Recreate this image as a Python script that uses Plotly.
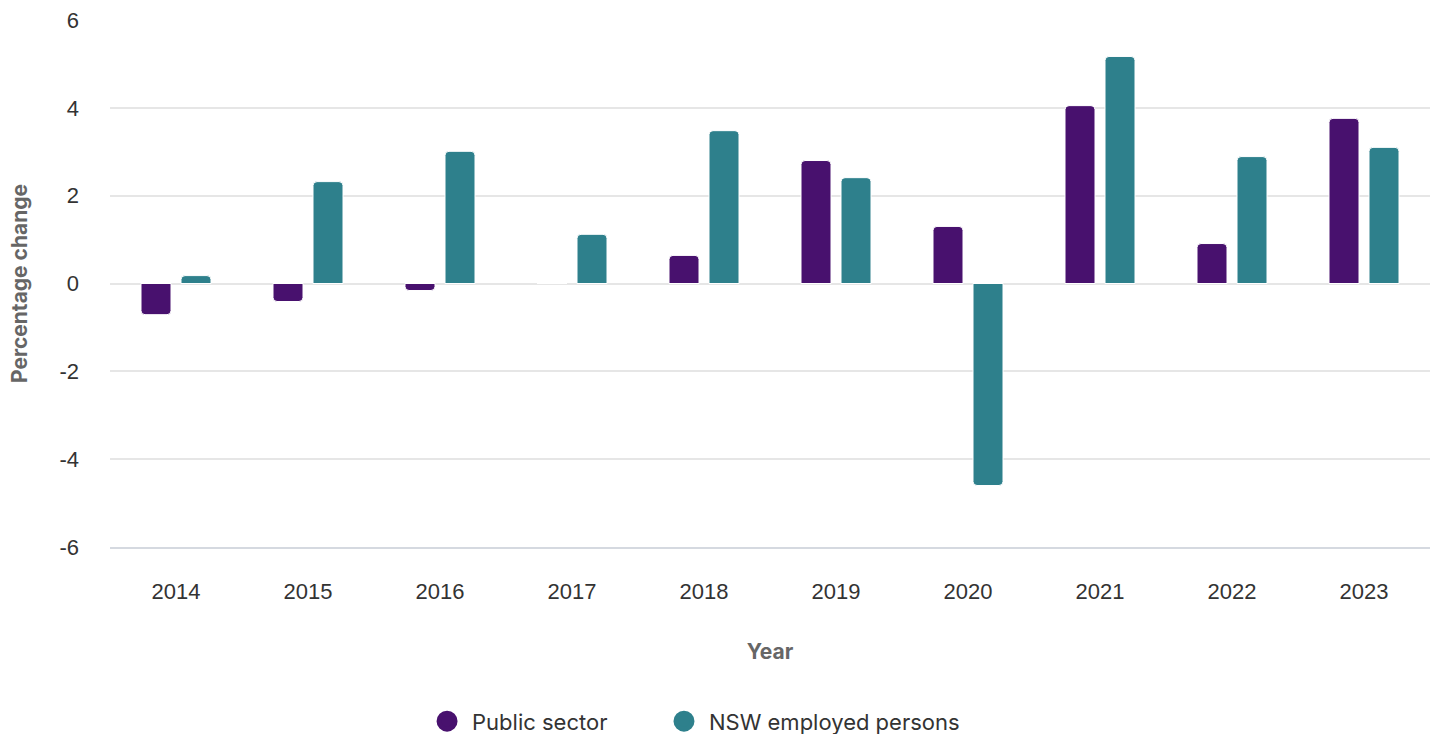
import plotly.graph_objects as go

years = ["2014", "2015", "2016", "2017", "2018", "2019", "2020", "2021", "2022", "2023"]
public_sector = [-0.71, -0.41, -0.16, 0.0, 0.64, 2.80, 1.30, 4.05, 0.91, 3.76]
nsw_employed = [0.18, 2.32, 3.01, 1.12, 3.48, 2.41, -4.60, 5.17, 2.89, 3.10]
y_ticks = [-6, -4, -2, 0, 2, 4, 6]

PURPLE = "#48116e"
TEAL = "#2e808c"
TICK_FONT = "Liberation Sans, Arial, sans-serif"
TEXT_FONT = "Inter, Roboto, sans-serif"

fig = go.Figure()
for name, vals, col, leg in [("Public sector", public_sector, PURPLE, "legend"),
                             ("NSW employed persons", nsw_employed, TEAL, "legend2")]:
    fig.add_trace(go.Bar(
        x=years, y=vals, name=name, showlegend=False,
        marker=dict(color=col, line=dict(color="white", width=1), cornerradius=4),
    ))
    # circular legend swatch
    fig.add_trace(go.Scatter(
        x=[None], y=[None], mode="markers", name=name, legend=leg,
        marker=dict(color=col, size=16, symbol="circle",
                    line=dict(color=col, width=5)),
    ))

legend_style = dict(orientation="h", xref="paper", yref="paper",
                    xanchor="left", y=-0.291, yanchor="top",
                    font=dict(family=TEXT_FONT, size=22, color="#333333"),
                    itemwidth=40, bgcolor="rgba(0,0,0,0)")

fig.update_layout(
    width=1439, height=734,
    paper_bgcolor="white", plot_bgcolor="white",
    margin=dict(l=110, r=9, t=20, b=187, autoexpand=False),
    barmode="group", bargap=0.394, bargroupgap=0.25,
    font=dict(family=TEXT_FONT, size=22, color="#333333"),
    showlegend=True,
    legend=dict(legend_style, x=0.2364),
    legend2=dict(legend_style, x=0.4159),
    xaxis=dict(
        type="category", showgrid=False, showline=True, linecolor="#d5d9e0",
        linewidth=2, ticks="", tickfont=dict(family=TICK_FONT, size=22, color="#333333"),
        ticklabelstandoff=24, tickangle=0,
        title=dict(text="<b>Year</b>", font=dict(family=TEXT_FONT, size=21, color="#666666"),
                   standoff=41),
    ),
    yaxis=dict(
        range=[-6, 6], tickmode="array", tickvals=y_ticks,
        ticktext=[str(v) for v in y_ticks],
        showgrid=True, gridcolor="#e6e6e6",
        gridwidth=1.5, zeroline=False, showline=False,
        tickfont=dict(family=TICK_FONT, size=22, color="#333333"), ticklabelstandoff=30,
        title=dict(text="<b>Percentage change</b>",
                   font=dict(family=TEXT_FONT, size=21, color="#666666"), standoff=26),
    ),
)

fig.write_html("out.html")
